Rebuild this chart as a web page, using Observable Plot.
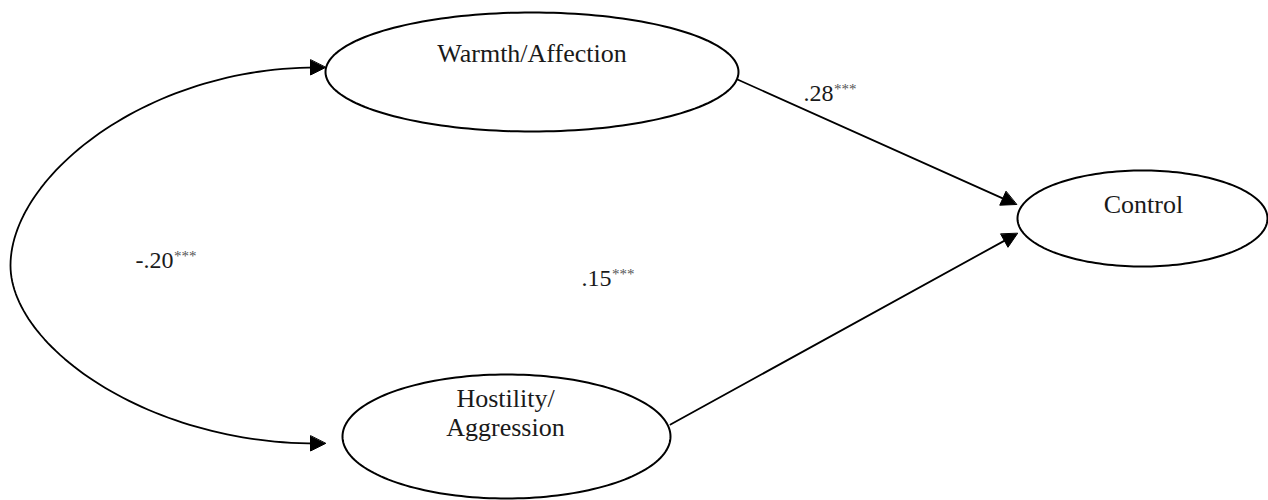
<!DOCTYPE html>
<html><head><meta charset="utf-8">
<script src="https://cdn.jsdelivr.net/npm/d3@7"></script>
<script src="https://cdn.jsdelivr.net/npm/@observablehq/plot@0.6"></script>
<style>html,body{margin:0;padding:0;background:#fff;} #chart svg{display:block;}</style>
</head><body><div id="chart"></div>
<script>
// ---- Data: constructs and standardized path coefficients ----
const constructs   = ["Warmth/Affection", "Hostility/\nAggression", "Control"];
const pathFrom     = ["Warmth/Affection", "Hostility/\nAggression"];
const pathTo       = ["Control", "Control"];
const pathCoef     = [".28", ".15"];
const pathSig      = ["***", "***"];
const covBetween   = ["Warmth/Affection", "Hostility/\nAggression"];
const covCoef      = ["-.20"];
const covSig       = ["***"];

// ---- Layout (pixel space of the diagram) ----
const layout = {
  nodes: {
    "Warmth/Affection":       {cx: 531.5, cy: 71.5, rx: 206.5, ry: 59.5, tx: 531.5, ty: 61},
    "Hostility/\nAggression": {cx: 506,   cy: 436,  rx: 164,   ry: 62,   tx: 505,   ty: 435},
    "Control":                {cx: 1142,  cy: 218,  rx: 125,   ry: 48,   tx: 1143,  ty: 212}
  },
  paths: [
    {start: [737, 79], tip: [1016, 204], label: [833, 100]},
    {start: [670, 424], tip: [1017, 233], label: [611, 285]}
  ],
  cov: {tipTop: [325, 67], tipBottom: [325, 443], left: [10, 265], c1: 170, k: 0.45, label: [173, 267]},
  head: {len: 15, width: 15}
};

// ---- Build geometry ----
const ellipsePts = [];
for (const name of constructs) {
  const n = layout.nodes[name];
  for (let i = 0; i < 180; i++) {
    const a = (i / 180) * 2 * Math.PI;
    ellipsePts.push({node: name, x: n.cx + n.rx * Math.cos(a), y: n.cy + n.ry * Math.sin(a)});
  }
}

const {len: HL, width: HW} = layout.head;
const heads = [];
const segs = [];
function addHead(id, tip, ux, uy) {
  const bx = tip[0] - HL * ux, by = tip[1] - HL * uy;
  const px = -uy, py = ux;
  heads.push({id, x: tip[0], y: tip[1]});
  heads.push({id, x: bx + px * HW / 2, y: by + py * HW / 2});
  heads.push({id, x: bx - px * HW / 2, y: by - py * HW / 2});
}
pathFrom.forEach((from, i) => {
  const p = layout.paths[i];
  const dx = p.tip[0] - p.start[0], dy = p.tip[1] - p.start[1];
  const L = Math.hypot(dx, dy), ux = dx / L, uy = dy / L;
  addHead("p" + i, p.tip, ux, uy);
  segs.push({id: "p" + i, x: p.start[0], y: p.start[1]});
  segs.push({id: "p" + i, x: p.tip[0] - ux * HL * 0.6, y: p.tip[1] - uy * HL * 0.6});
});

// covariance double-headed curve (two cubic Bezier halves)
const cv = layout.cov;
function cubic(P0, P1, P2, P3, t) {
  const u = 1 - t;
  return [
    u*u*u*P0[0] + 3*u*u*t*P1[0] + 3*u*t*t*P2[0] + t*t*t*P3[0],
    u*u*u*P0[1] + 3*u*u*t*P1[1] + 3*u*t*t*P2[1] + t*t*t*P3[1]
  ];
}
const topStart = [cv.tipTop[0] - HL * 0.6, cv.tipTop[1]];
const botEnd = [cv.tipBottom[0] - HL * 0.6, cv.tipBottom[1]];
const c2t = cv.k * (cv.left[1] - cv.tipTop[1]);
const c2b = cv.k * (cv.tipBottom[1] - cv.left[1]);
const covPts = [];
for (let i = 0; i <= 60; i++) {
  const [x, y] = cubic(topStart, [topStart[0] - cv.c1, topStart[1]], [cv.left[0], cv.left[1] - c2t], cv.left, i / 60);
  covPts.push({x, y});
}
for (let i = 1; i <= 60; i++) {
  const [x, y] = cubic(cv.left, [cv.left[0], cv.left[1] + c2b], [botEnd[0] - cv.c1, botEnd[1]], botEnd, i / 60);
  covPts.push({x, y});
}
addHead("ct", cv.tipTop, 1, 0);
addHead("cb", cv.tipBottom, 1, 0);

const nodeText = constructs.map(name => ({label: name, x: layout.nodes[name].tx, y: layout.nodes[name].ty}));
const coefText = pathCoef.map((c, i) => ({coef: c, sig: pathSig[i], x: layout.paths[i].label[0], y: layout.paths[i].label[1]}))
  .concat(covCoef.map((c, i) => ({coef: c, sig: covSig[i], x: cv.label[0], y: cv.label[1]})));

const serif = "'Liberation Serif', 'DejaVu Serif', serif";

const chart = Plot.plot({
  width: 1268, height: 500, margin: 0,
  x: {domain: [0, 1268], range: [0, 1268], axis: null},
  y: {domain: [0, 500], range: [0, 500], axis: null},
  style: {background: "white"},
  marks: [
    Plot.line(ellipsePts, {x: "x", y: "y", z: "node", curve: "linear-closed", stroke: "black", strokeWidth: 2}),
    Plot.line(segs, {x: "x", y: "y", z: "id", stroke: "black", strokeWidth: 1.8}),
    Plot.line(covPts, {x: "x", y: "y", stroke: "black", strokeWidth: 1.8, curve: "linear"}),
    Plot.line(heads, {x: "x", y: "y", z: "id", curve: "linear-closed", fill: "black", stroke: "black", strokeWidth: 1}),
    Plot.text(nodeText, {x: "x", y: "y", text: "label", fontSize: 26, fontFamily: serif, lineAnchor: "bottom", lineHeight: 1.08, fill: "#1a1a1a"}),
    Plot.text(coefText, {x: "x", y: "y", text: "coef", fontSize: 24, fontFamily: serif, textAnchor: "end", lineAnchor: "bottom", fill: "#1a1a1a"}),
    Plot.text(coefText, {x: "x", y: "y", text: "sig", fontSize: 15, fontFamily: serif, textAnchor: "start", lineAnchor: "bottom", dy: -7, dx: 0.5, fill: "#555"})
  ]
});
document.getElementById("chart").appendChild(chart);
</script>
</body></html>
